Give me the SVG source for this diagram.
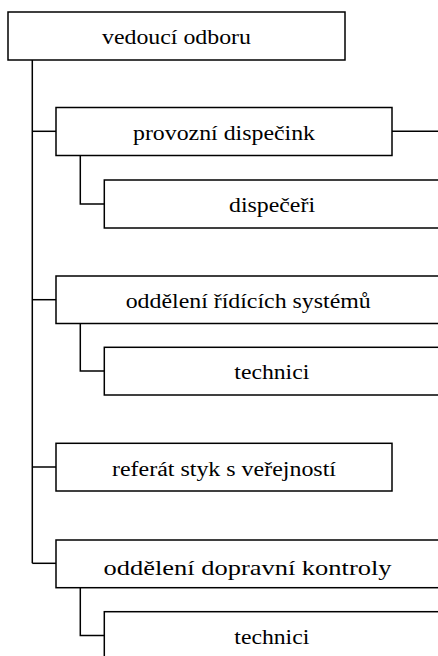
<svg xmlns="http://www.w3.org/2000/svg" width="438" height="656" viewBox="0 0 438 656">
  <style>
    .box { fill: #ffffff; stroke: #000000; stroke-width: 1.5; }
    .lbl { font-family: 'Liberation Serif', 'Times New Roman', 'DejaVu Serif', serif; font-size: 20px; fill: #000000; text-anchor: middle; }
    .big { font-size: 22px; }
    .link { fill: none; stroke: #000000; stroke-width: 1.5; }
  </style>
  <rect width="438" height="656" fill="#ffffff"/>

  <!-- connectors -->
  <g id="connectors">
    <path class="link" d="M32.3 60 V563.3"/>
    <path class="link" d="M32.3 131.3 H56"/>
    <path class="link" d="M32.3 299.7 H56"/>
    <path class="link" d="M32.3 467 H56"/>
    <path class="link" d="M32.3 563.3 H56"/>
    <path class="link" d="M80.3 155.5 V204 H104.3"/>
    <path class="link" d="M80.3 323.5 V371 H104.3"/>
    <path class="link" d="M80.3 587.7 V635.5 H104.3"/>
    <path class="link" d="M392 131.3 H440"/>
  </g>

  <g id="vedouci">
    <rect class="box" x="8" y="12" width="337" height="48"/>
    <text class="lbl" font-family="Liberation Serif, serif" x="176.5" y="44" textLength="149" lengthAdjust="spacingAndGlyphs">vedoucí odboru</text>
  </g>

  <g id="provozni-dispecink">
    <rect class="box" x="56" y="107.5" width="336" height="48"/>
    <text class="lbl" font-family="Liberation Serif, serif" x="224" y="139.5" textLength="182" lengthAdjust="spacingAndGlyphs">provozní dispečink</text>
  </g>

  <g id="dispeceri">
    <rect class="box" x="104.3" y="180" width="336" height="48"/>
    <text class="lbl" font-family="Liberation Serif, serif" x="272" y="212" textLength="86" lengthAdjust="spacingAndGlyphs">dispečeři</text>
  </g>

  <g id="oddeleni-ridicich-systemu">
    <rect class="box" x="56" y="276" width="384" height="47.5"/>
    <text class="lbl" font-family="Liberation Serif, serif" x="248.2" y="308" textLength="245" lengthAdjust="spacingAndGlyphs">oddělení řídících systémů</text>
  </g>

  <g id="technici-1">
    <rect class="box" x="104.3" y="347.3" width="336" height="47.7"/>
    <text class="lbl" font-family="Liberation Serif, serif" x="271.8" y="379" textLength="75" lengthAdjust="spacingAndGlyphs">technici</text>
  </g>

  <g id="referat">
    <rect class="box" x="56" y="443.3" width="336" height="47.7"/>
    <text class="lbl" font-family="Liberation Serif, serif" x="224" y="475.5" textLength="224" lengthAdjust="spacingAndGlyphs">referát styk s veřejností</text>
  </g>

  <g id="oddeleni-dopravni-kontroly">
    <rect class="box" x="56" y="540" width="384" height="47.7"/>
    <text class="lbl big" font-family="Liberation Serif, serif" x="247.5" y="574.5" textLength="288" lengthAdjust="spacingAndGlyphs">oddělení dopravní kontroly</text>
  </g>

  <g id="technici-2">
    <rect class="box" x="104.3" y="611.7" width="336" height="48"/>
    <text class="lbl" font-family="Liberation Serif, serif" x="271.8" y="643.5" textLength="75" lengthAdjust="spacingAndGlyphs">technici</text>
  </g>
</svg>
